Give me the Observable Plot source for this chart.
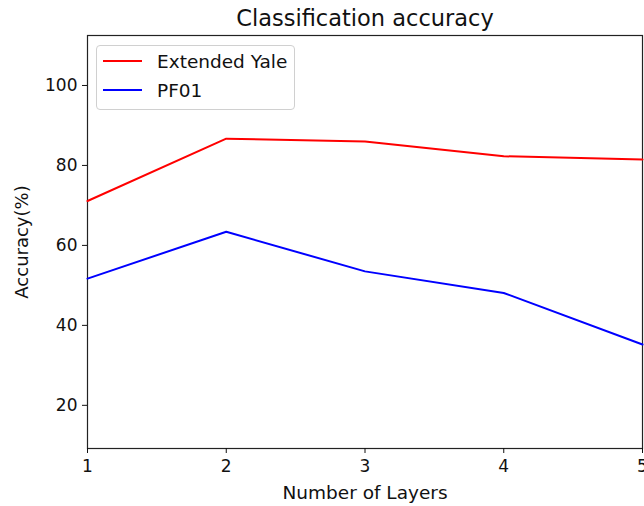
<!DOCTYPE html>
<html>
<head>
<meta charset="utf-8">
<script src="https://cdn.jsdelivr.net/npm/d3@7"></script>
<script src="https://cdn.jsdelivr.net/npm/@observablehq/plot@0.6"></script>
<style>
  body { margin: 0; background: #fff; font-family: "DejaVu Sans", sans-serif; }
  #wrap { position: relative; width: 644px; height: 506px; }
  #legend { position: absolute; left: 96px; top: 45px; width: 199px; height: 65px;
    border: 1px solid #d0d0d0; border-radius: 4px; background: rgba(255,255,255,0.8);
    font-family: "DejaVu Sans", sans-serif; font-size: 18.5px; color: #111; box-sizing: border-box; }
  .item { position: absolute; left: 6px; height: 20px; display: flex; align-items: center; }
  .sw { width: 39px; height: 2px; margin-right: 15px; }
</style>
</head>
<body>
<div id="wrap"><div id="legend"></div></div>
<script>
const layers = [1, 2, 3, 4, 5];
const seriesNames = ["Extended Yale", "PF01"];
const extendedYale = [71.1, 86.7, 86.0, 82.3, 81.5];
const pf01 = [51.7, 63.4, 53.5, 48.1, 35.2];
const colors = ["#ff0000", "#0000ff"];
const yTicks = [20, 40, 60, 80, 100];

const data = [];
[extendedYale, pf01].forEach((vals, i) => vals.forEach((v, j) => data.push({series: seriesNames[i], layers: layers[j], acc: v})));

const chart = Plot.plot({
  width: 644,
  height: 506,
  marginLeft: 87,
  marginRight: 2,
  marginTop: 35,
  marginBottom: 58,
  style: { fontFamily: "DejaVu Sans, sans-serif", fontSize: "17px", color: "#111" },
  x: { domain: [1, 5], ticks: layers, tickFormat: d3.format("d"), label: "Number of Layers", labelAnchor: "center", labelArrow: "none" },
  y: { domain: [9.2, 112.5], ticks: yTicks, label: "Accuracy(%)", labelAnchor: "center", labelArrow: "none" },
  color: { domain: seriesNames, range: colors },
  marks: [
    Plot.frame({ stroke: "#222", strokeWidth: 1.2 }),
    Plot.axisX({ ticks: layers, tickFormat: d3.format("d"), tickSize: 5, tickPadding: 6, fontSize: 17, label: null }),
    Plot.axisX({ ticks: [], label: "Number of Layers", labelOffset: 50, labelAnchor: "center", labelArrow: "none", fontSize: 18.5 }),
    Plot.axisY({ ticks: yTicks, tickSize: 5, tickPadding: 5, fontSize: 17, label: null }),
    Plot.axisY({ ticks: [], label: "Accuracy(%)", labelOffset: 72, labelAnchor: "center", labelArrow: "none", fontSize: 18 }),
    Plot.line(data, { x: "layers", y: "acc", stroke: "series", z: "series", strokeWidth: 2 }),
    Plot.text(["Classification accuracy"], { text: d => d, frameAnchor: "top", lineAnchor: "middle", dy: -17, fontSize: 22.5, fill: "#111" })
  ]
});
document.getElementById("wrap").prepend(chart);

const legend = document.getElementById("legend");
seriesNames.forEach((name, i) => {
  const it = document.createElement("div");
  it.className = "item";
  it.style.top = (i === 0 ? 5 : 34) + "px";
  const sw = document.createElement("div");
  sw.className = "sw";
  sw.style.background = colors[i];
  const t = document.createElement("span");
  t.textContent = name;
  it.append(sw, t);
  legend.append(it);
});
</script>
</body>
</html>
